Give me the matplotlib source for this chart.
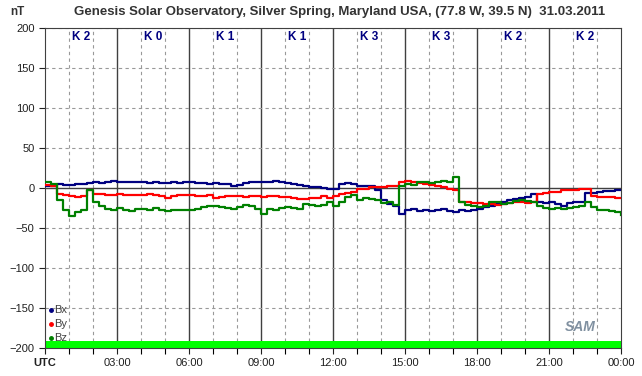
import numpy as np
import matplotlib
matplotlib.use('Agg')
import matplotlib.pyplot as plt

plt.rcParams['font.family'] = ['Liberation Sans', 'DejaVu Sans']

# magnetometer readings, 15 min steps (hours UTC)
hours = np.arange(0, 24.01, 0.25)

bx = [2, 3, 5, 4, 4, 5, 5, 6, 7, 6, 8, 9, 8, 7, 8, 8,
      7, 6, 7, 6, 6, 7, 6, 7, 7, 6, 6, 5, 6, 5, 5, 3,
      4, 6, 8, 7, 7, 8, 9, 8, 6, 5, 4, 3, 1, 1, 0, -1,
      -1, 5, 6, 5, 3, 2, 2, -3, -15, -20, -22, -32, -27, -26, -29, -28,
      -29, -27, -26, -29, -30, -28, -29, -27, -26, -24, -22, -20, -17, -15, -14, -12,
      -11, -8, -17, -19, -18, -20, -22, -19, -18, -17, -6, -6, -5, -4, -4, -2,
      -3]

by = [4, 2, -8, -9, -10, -11, -10, -2, -7, -8, -9, -9, -8, -9, -9, -9,
      -9, -8, -9, -10, -12, -10, -9, -9, -9, -10, -10, -9, -12, -11, -10, -10,
      -10, -11, -10, -10, -11, -10, -10, -11, -11, -12, -14, -14, -13, -12, -10, -13,
      -10, -8, -6, -5, -1, -1, 1, 1, 1, 2, 2, 8, 9, 8, 6, 5,
      4, 2, 1, -1, -2, -17, -18, -19, -19, -20, -20, -21, -20, -19, -18, -18,
      -19, -17, -7, -6, -5, -5, -3, -2, -2, -1, -1, -10, -11, -11, -11, -12,
      -12]

bz = [8, 5, -15, -28, -35, -30, -28, -2, -17, -22, -26, -27, -25, -28, -29, -26,
      -26, -27, -25, -27, -29, -28, -27, -28, -28, -26, -24, -22, -23, -24, -25, -26,
      -24, -21, -23, -26, -32, -26, -27, -25, -24, -25, -26, -20, -21, -22, -21, -18,
      -22, -17, -11, -9, -15, -12, -14, -15, -19, -18, -21, 2, 5, 4, 7, 8,
      6, 8, 9, 8, 14, -18, -21, -22, -24, -22, -18, -17, -20, -19, -16, -15,
      -16, -18, -23, -25, -26, -25, -26, -25, -24, -22, -18, -24, -28, -28, -29, -30,
      -34]

k_index = [2, 0, 1, 1, 3, 3, 2, 2]
k_start = [0, 3, 6, 9, 12, 15, 18, 21]
k_bar_height = [9, 9, 9, 9, 9, 9, 9, 9]

xtick_pos = [0, 3, 6, 9, 12, 15, 18, 21, 24]
xtick_labels = ['UTC', '03:00', '06:00', '09:00', '12:00', '15:00', '18:00', '21:00', '00:00']

fig = plt.figure(figsize=(6.42, 3.76), dpi=100)
ax = fig.add_axes([45 / 642, 28 / 376, 576 / 642, 320 / 376])

# K index bars along the bottom
ax.bar(k_start, k_bar_height, width=3, bottom=-200, align='edge', color='#00ff00', zorder=2)

# grid
dash = (0, (3, 3))
for h in range(1, 24):
    if h % 3 == 0:
        ax.axvline(h, color='#404040', lw=1, zorder=1)
    else:
        ax.axvline(h, color='#999999', lw=0.8, ls=dash, zorder=1)
for v in range(-150, 201, 50):
    if v == 0:
        ax.axhline(v, color='#404040', lw=1, zorder=1)
    else:
        ax.axhline(v, color='#999999', lw=0.8, ls=dash, zorder=1)

ax.plot(hours, bx, color='#000080', lw=1.6, drawstyle='steps-post', zorder=3)
ax.plot(hours, by, color='#ff0000', lw=1.6, drawstyle='steps-post', zorder=3)
ax.plot(hours, bz, color='#008000', lw=1.6, drawstyle='steps-post', zorder=4)

ax.set_xlim(0, 24)
ax.set_ylim(-200, 200)
ax.set_yticks(range(-200, 201, 50))
ax.set_xticks(xtick_pos)
ax.set_xticklabels(xtick_labels)
ax.set_xticks(range(0, 25), minor=True)
ax.tick_params(axis='both', labelsize=8, colors='#202020', length=4, width=0.8, direction='out')
ax.tick_params(axis='x', which='minor', length=4, width=0.8)
ax.get_xticklabels()[0].set_fontweight('bold')
for s in ax.spines.values():
    s.set_color('#404040')

# K labels
for ks, k in zip(k_start, k_index):
    ax.text(ks + 1.5, 189, 'K %d' % k, color='#000080', fontsize=8.5, fontweight='bold',
            ha='center', va='center', zorder=5)

# legend
names = ['Bx', 'By', 'Bz']
cols = ['#000080', '#ff0000', '#008000']
for i, (n, c) in enumerate(zip(names, cols)):
    yv = -152 - i * 18
    ax.plot([0.25], [yv], marker='o', ms=2.5, color=c, zorder=5)
    ax.text(0.4, yv, n, fontsize=8, color='#404040', va='center', ha='left', zorder=5)

# SAM logo
ax.text(22.3, -174, 'SAM', fontsize=10, fontstyle='italic', fontweight='bold', color='#8090a0',
        ha='center', va='center', zorder=5)

fig.text(340 / 642, 1 - 12 / 376, 'Genesis Solar Observatory, Silver Spring, Maryland USA, (77.8 W, 39.5 N)  31.03.2011',
         ha='center', va='center', fontsize=9.5, fontweight='bold', color='#333333')
fig.text(17 / 642, 1 - 12 / 376, 'nT', ha='center', va='center', fontsize=8.5,
         fontweight='bold', color='#333333')

fig.savefig('out.png', dpi=100)
